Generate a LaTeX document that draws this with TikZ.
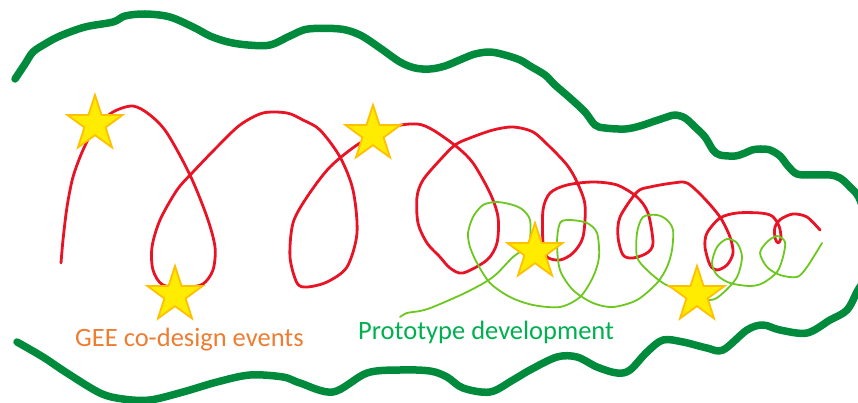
\documentclass[tikz,border=0pt]{standalone}
\usepackage{fontspec}
\setmainfont{Carlito}
\usetikzlibrary{shapes.geometric}
\definecolor{borderGreen}{RGB}{0,138,60}
\definecolor{loopRed}{RGB}{232,20,38}
\definecolor{protoGreen}{RGB}{108,200,30}
\definecolor{starFill}{RGB}{255,236,0}
\definecolor{starEdge}{RGB}{255,192,0}
\definecolor{eventOrange}{RGB}{237,125,49}
\definecolor{labelGreen}{RGB}{0,176,80}
\tikzset{
  border/.style={draw=borderGreen, line width=7.5pt, line cap=round, line join=round},
  eventloop/.style={draw=loopRed, line width=2.8pt, line cap=round, line join=round},
  protoloop/.style={draw=protoGreen, line width=1.8pt, line cap=round, line join=round},
  starmark/.style={star, star points=5, star point ratio=2.6, minimum size=58pt,
    inner sep=0pt, fill=starFill, draw=starEdge, line width=1.8pt},
  caption/.style={anchor=base west, inner sep=0pt, font=\fontsize{26.5}{30}\selectfont}
}
\begin{document}
\begin{tikzpicture}[x=1pt,y=-1pt]
\useasboundingbox (0,0) rectangle (858,403);
\clip (0,0) rectangle (858,403);

% enclosing freehand boundary, open on the left
\draw[border] plot[smooth, tension=0.55] coordinates {
 (15,79) (25,64) (33,52) (45,44) (60,36) (85,27) (113,22) (125,16) (145,14)
 (170,17) (195,28) (210,36) (228,42) (248,45) (270,45) (290,36) (308,29)
 (340,29) (360,35) (380,48) (400,62) (415,68) (430,69) (445,66) (462,59)
 (475,54) (490,52) (505,55) (520,60) (530,66) (545,75) (555,85) (570,98)
 (585,112) (595,125) (605,128) (625,129) (640,126) (655,121) (667,117)
 (675,115) (685,118) (695,127) (705,137) (713,150) (720,155) (735,156)
 (745,153) (752,150) (760,149) (770,150) (780,156) (788,166) (797,174)
 (812,175) (830,175) (840,178) (850,187) (860,200) (872,240) (870,270)
 (858,290) (847,310) (830,320) (807,333) (780,330) (763,325) (747,330)
 (723,350) (707,348) (683,342) (663,340) (647,352) (630,370) (617,373)
 (597,367) (577,357) (557,357) (530,370) (513,380) (490,392) (463,388)
 (447,377) (430,371) (400,370) (367,373) (333,392) (300,383) (283,377)
 (250,375) (217,382) (183,392) (150,400) (123,399) (100,393) (67,373)
 (43,357) (17,342)};

% co-design event spiral
\draw[eventloop] plot[smooth, tension=0.5] coordinates {
 (61,263) (63,240) (67,207) (73,177) (83,150) (95,128) (113,112) (133,106)
 (150,115) (167,133) (190,175) (207,217) (215,247) (213,270) (203,284)
 (187,287) (163,285) (153,270) (152,247) (160,220) (177,190) (193,172)
 (217,147) (240,125) (263,113) (287,113) (303,120) (320,130) (340,157)
 (353,190) (357,233) (347,267) (327,282) (307,287) (297,283) (290,257)
 (293,223) (307,197) (330,167) (360,143) (393,127) (417,124) (433,130)
 (457,147) (473,163) (490,193) (498,217) (497,243) (487,260) (463,273)
 (450,268) (440,257) (427,243) (418,223) (417,197) (423,180) (440,160)
 (455,145) (470,138) (493,130) (513,127) (533,132) (550,147) (567,165)
 (577,182) (585,205) (583,237) (573,253) (560,260) (547,257) (543,243)
 (543,210) (550,193) (567,185) (593,182) (617,185) (637,197) (648,213)
 (653,243) (647,253) (633,258) (623,255) (618,237) (620,217) (637,192)
 (650,187) (673,183) (687,183) (703,197) (720,217) (730,237) (733,253)
 (727,265) (717,270) (710,265) (705,247) (707,233) (720,218) (737,213)
 (760,213) (772,216) (779,226) (781,238) (778,243) (775,238) (775,227)
 (781,219) (793,214) (807,217) (820,230)};

% prototype development spiral
\draw[protoloop] plot[smooth, tension=0.5] coordinates {
 (400,317) (407,313) (420,311) (433,307) (467,292) (493,277) (513,257)
 (527,247) (530,240) (530,220) (523,210) (513,205) (497,202) (483,205)
 (473,217) (468,233) (470,247) (477,263) (490,283) (510,297) (533,305)
 (560,307) (580,297) (593,277) (599,257) (597,233) (587,223) (570,220)
 (560,223) (557,243) (560,270) (573,290) (593,303) (613,307) (637,300)
 (657,283) (667,267) (672,250) (673,230) (667,220) (657,215) (643,217)
 (637,233) (637,257) (647,270) (663,283) (683,292) (710,300) (723,293)
 (737,277) (742,257) (737,243) (727,239) (717,247) (712,263) (717,275)
 (730,283) (750,286) (763,283) (777,272) (783,257) (785,242) (777,236)
 (767,242) (760,253) (767,267) (780,275) (797,277) (807,267) (822,243)};

% event markers
\node[starmark] (s1) at (95,124) {};
\node[starmark] (s2) at (175,295) {};
\node[starmark] (s3) at (373,134) {};
\node[starmark] (s4) at (535,252) {};
\node[starmark] (s5) at (697,295) {};

% captions
\node[caption, text=eventOrange] (events) at (75,346) {GEE co-design events};
\node[caption, text=labelGreen] (proto) at (358,339) {Prototype development};
\end{tikzpicture}
\end{document}
